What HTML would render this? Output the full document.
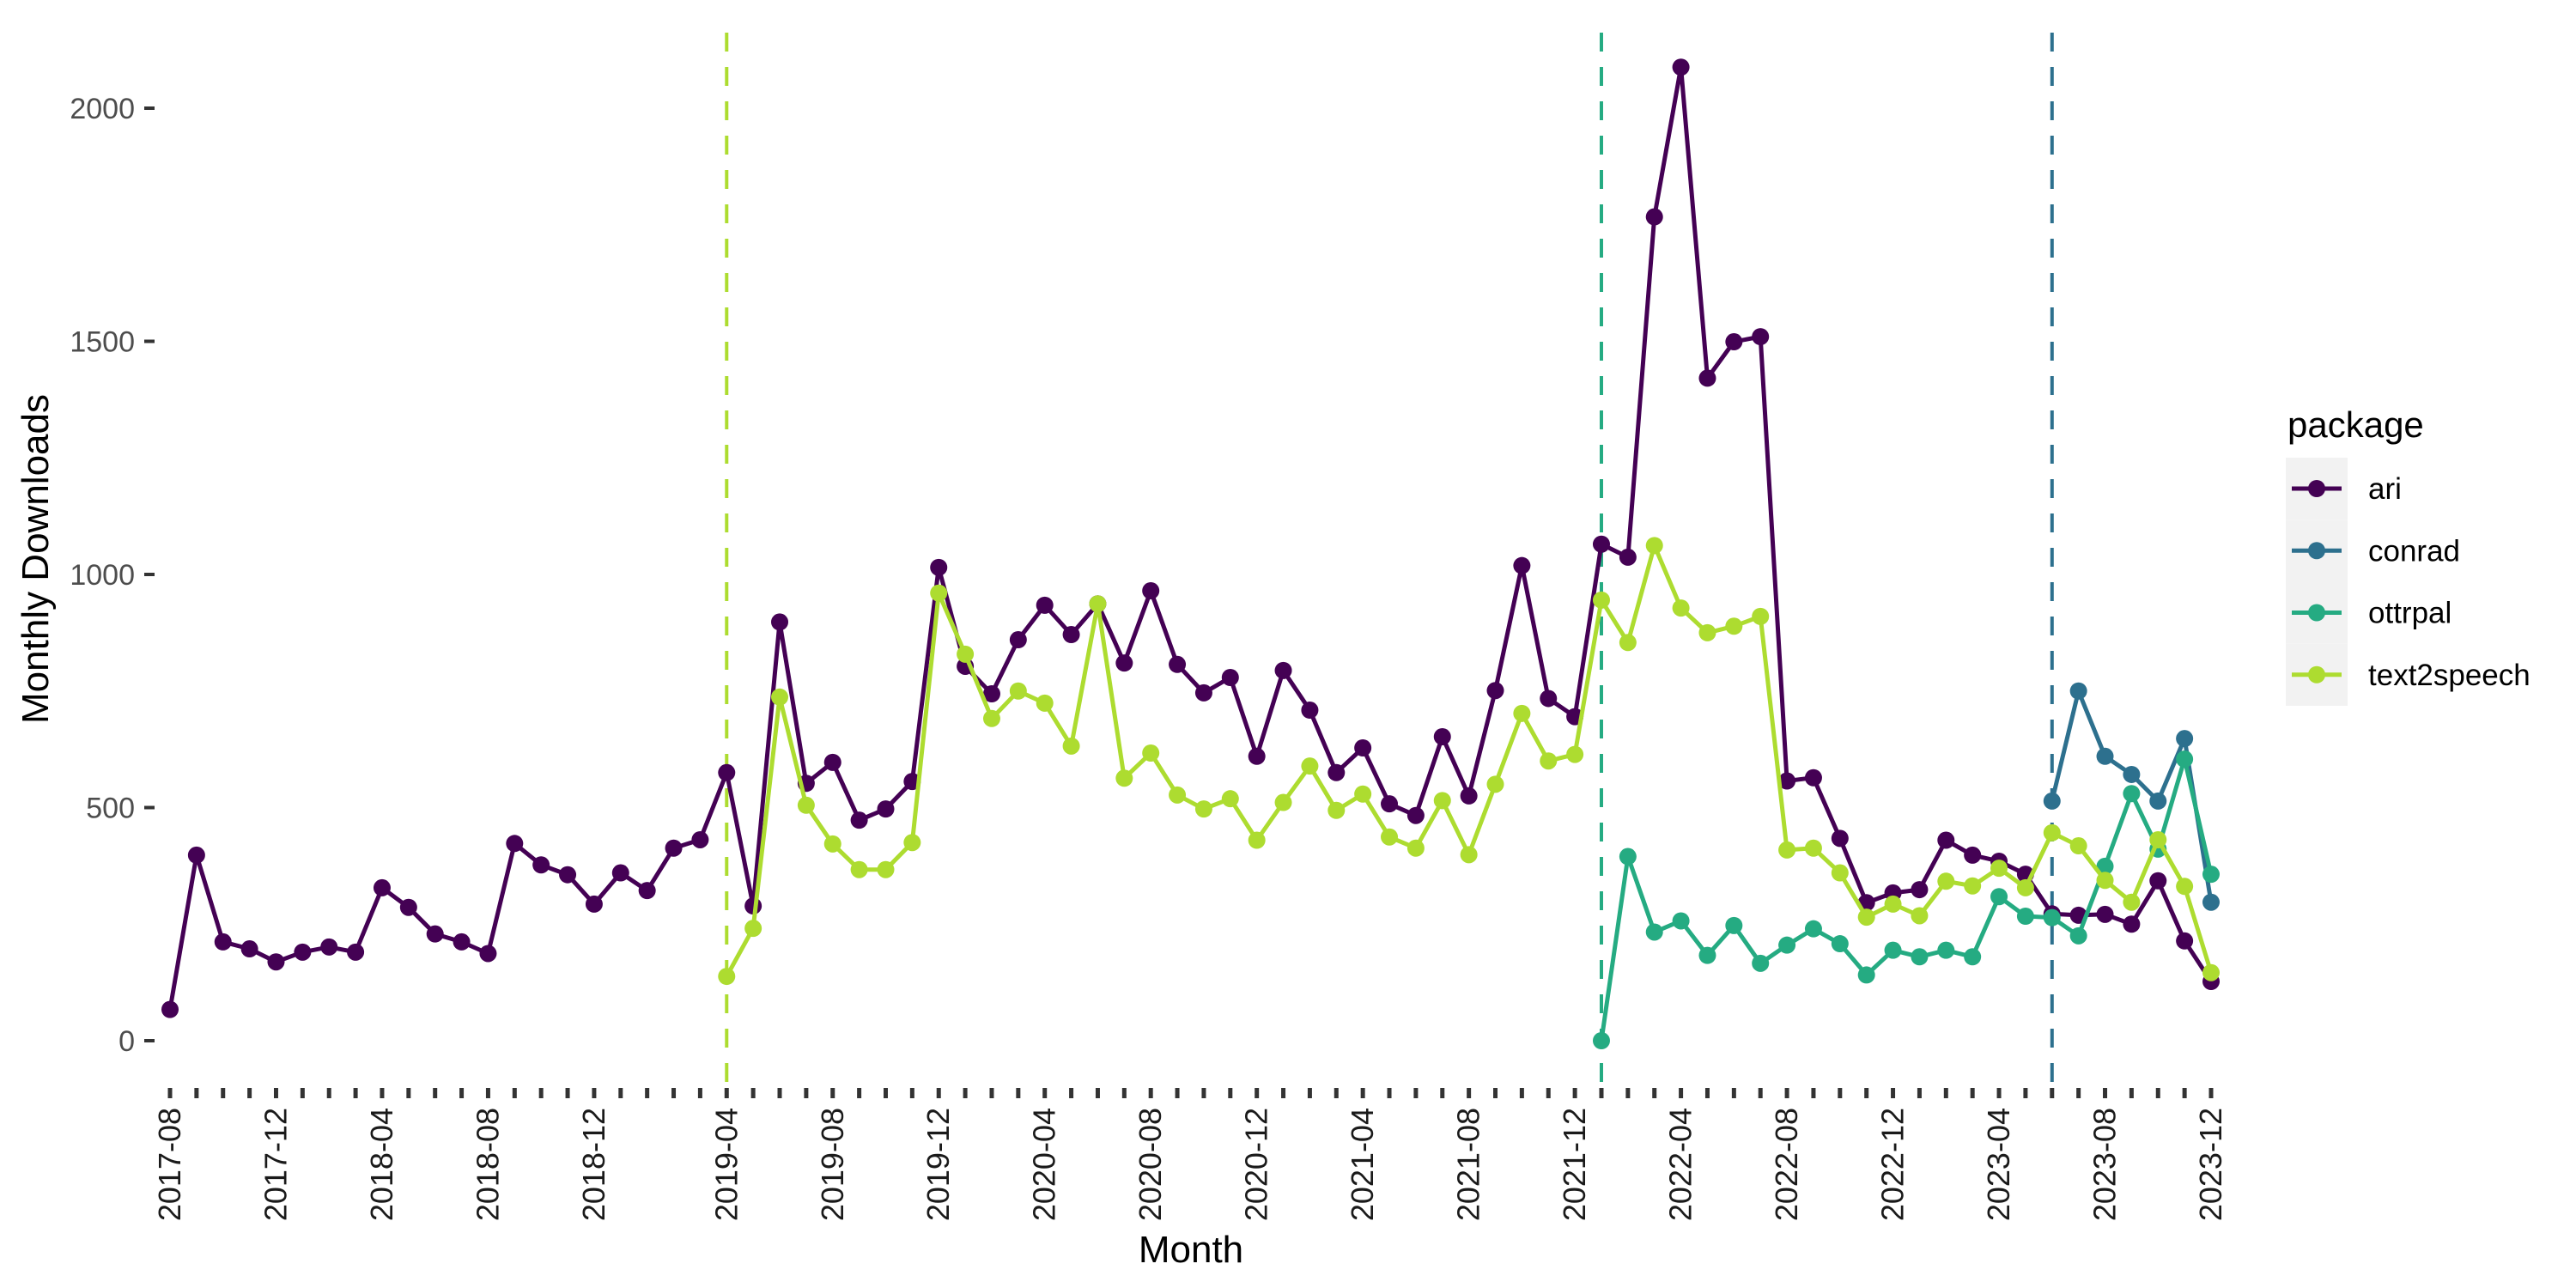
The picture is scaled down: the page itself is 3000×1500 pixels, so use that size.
<!DOCTYPE html>
<html>
<head>
<meta charset="utf-8">
<style>
html,body{margin:0;padding:0;background:#fff;}
svg{display:block;font-family:"Liberation Sans",sans-serif;}
</style>
</head>
<body>
<svg id="chart" width="3000" height="1500" viewBox="0 0 3000 1500" xmlns="http://www.w3.org/2000/svg">
  <rect x="0" y="0" width="3000" height="1500" fill="#ffffff"/>
  <g id="vlines"></g>
  <g id="yaxis"></g>
  <g id="xaxis"></g>
  <g id="series"></g>
  <text x="1387" y="1470" font-size="44" text-anchor="middle" fill="#000">Month</text>
  <text transform="translate(56,651) rotate(-90)" font-size="44" text-anchor="middle" fill="#000">Monthly Downloads</text>
  <g id="legend">
    <text x="2664" y="509" font-size="42" fill="#000">package</text>
  </g>
</svg>
<script>
// ---- data ----
const categoryCount = 78;
const tickLabels = ["2017-08","2017-12","2018-04","2018-08","2018-12","2019-04","2019-08","2019-12","2020-04","2020-08","2020-12","2021-04","2021-08","2021-12","2022-04","2022-08","2022-12","2023-04","2023-08","2023-12"];
const tickLabelIndex = [0,4,8,12,16,21,25,29,33,37,41,45,49,53,57,61,65,69,73,77];
const yTicks = [0,500,1000,1500,2000];
const seriesNames = ["ari","conrad","ottrpal","text2speech"];
const seriesColors = ["#440154","#2d708e","#25ab82","#addc30"];
const ariStart = 0;
const ariValues = [67,398,212,197,169,190,201,190,328,286,229,212,187,423,377,356,293,360,322,413,431,575,289,898,552,597,473,497,556,1015,803,744,860,934,871,937,810,965,807,746,779,610,794,709,575,628,508,483,652,525,751,1019,734,695,1065,1037,1767,2088,1421,1499,1510,557,564,434,296,317,324,430,398,385,357,272,269,271,250,343,214,127];
const conradStart = 71;
const conradValues = [514,750,610,571,514,648,297];
const ottrpalStart = 54;
const ottrpalValues = [0,395,233,257,183,247,166,205,240,208,141,194,180,194,180,309,267,264,225,374,530,411,604,357];
const text2speechStart = 21;
const text2speechValues = [138,241,737,505,422,367,367,425,960,829,691,750,724,632,937,563,617,527,497,519,430,511,589,494,529,437,413,515,399,550,702,600,614,945,854,1062,928,875,889,910,409,413,360,265,293,268,342,332,370,328,446,418,344,297,431,331,146];
const releaseIndex = [21,54,71];
const releaseColorIdx = [3,2,1];

// ---- scales ----
const X0 = 198, X1 = 2575, Y0 = 1212, Y2000 = 126;
function xs(i){ return X0 + (X1 - X0) * i / (categoryCount - 1); }
function ys(v){ return Y0 - (Y0 - Y2000) * v / 2000; }
const NS = "http://www.w3.org/2000/svg";
function mk(tag, attrs, parent){
  const e = document.createElementNS(NS, tag);
  for (const k in attrs) e.setAttribute(k, attrs[k]);
  parent.appendChild(e);
  return e;
}

// release lines
const vl = document.getElementById('vlines');
releaseIndex.forEach((ri, k) => {
  const l = mk('line', {x1: xs(ri), x2: xs(ri), y1: 38, y2: 1278, stroke: seriesColors[releaseColorIdx[k]], 'stroke-width': 4, 'stroke-dasharray': '22 18'}, vl);
  
  
});

// y axis
const ya = document.getElementById('yaxis');
yTicks.forEach(v => {
  const t = mk('line', {x1: 168, x2: 180, y1: ys(v), y2: ys(v), stroke: '#333', 'stroke-width': 4}, ya);
  
  
  const tx = mk('text', {x: 157, y: ys(v) + 12, 'font-size': 34, 'text-anchor': 'end', fill: '#4d4d4d'}, ya);
  tx.textContent = v;
  
  
});

// x axis
const xa = document.getElementById('xaxis');
for (let i = 0; i < categoryCount; i++) {
  const t = mk('line', {x1: xs(i), x2: xs(i), y1: 1267, y2: 1279, stroke: '#333', 'stroke-width': 5}, xa);
  
  
}
tickLabels.forEach((lab, k) => {
  const x = xs(tickLabelIndex[k]) + 12, y = 1290;
  const tx = mk('text', {x: x, y: y, 'font-size': 36, 'text-anchor': 'end', fill: '#1a1a1a', transform: 'rotate(-90 ' + x + ' ' + y + ')'}, xa);
  tx.textContent = lab;
  
  
});

// series
const sg = document.getElementById('series');
const allSeries = [[ariStart, ariValues],[conradStart, conradValues],[ottrpalStart, ottrpalValues],[text2speechStart, text2speechValues]];
const drawOrder = [0,1,2,3];
drawOrder.forEach(s => {
  const [st, vals] = allSeries[s];
  const g = mk('g', {}, sg);
  
  
  const pts = vals.map((v, j) => xs(st + j).toFixed(1) + ',' + ys(v).toFixed(1)).join(' ');
  const pl = mk('polyline', {points: pts, fill: 'none', stroke: seriesColors[s], 'stroke-width': 5, 'stroke-linejoin': 'round'}, g);
  
  
  vals.forEach((v, j) => {
    const c = mk('circle', {cx: xs(st + j), cy: ys(v), r: 10, fill: seriesColors[s]}, g);
    
    
  });
});

// legend
const lg = document.getElementById('legend');
seriesNames.forEach((n, k) => {
  const top = 533 + k * 72.25, cy = top + 36;
  const g = mk('g', {}, lg);
  
  
  mk('rect', {x: 2662, y: top, width: 72, height: 72.25, fill: '#f2f2f2'}, g);
  mk('line', {x1: 2669, x2: 2727, y1: cy, y2: cy, stroke: seriesColors[k], 'stroke-width': 5}, g);
  mk('circle', {cx: 2698, cy: cy, r: 10, fill: seriesColors[k]}, g);
  const t = mk('text', {x: 2758, y: cy + 12, 'font-size': 35, fill: '#000'}, g);
  t.textContent = n;
});
</script>
</body>
</html>
